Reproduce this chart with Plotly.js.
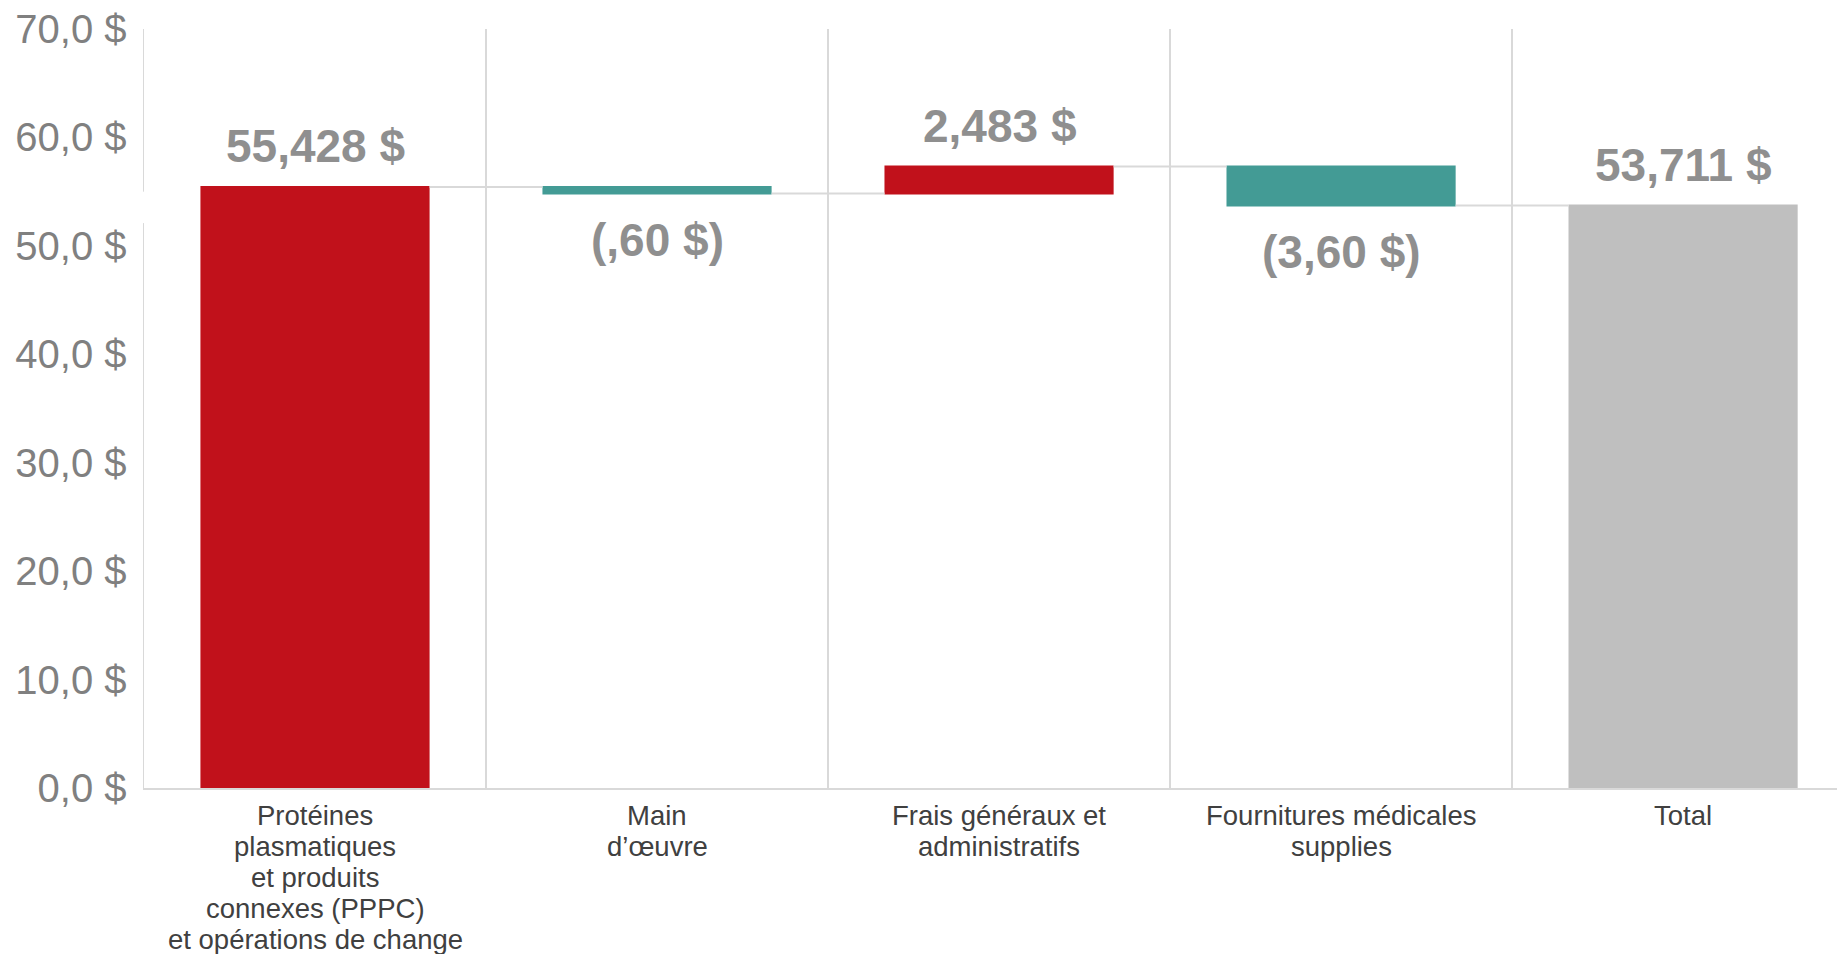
<!DOCTYPE html>
<html>
<head>
<meta charset="utf-8">
<script src="https://cdn.plot.ly/plotly-3.0.1.min.js"></script>
<style>html,body{margin:0;padding:0;background:#fff;}#chart{width:1837px;height:954px;}</style>
</head>
<body>
<div id="chart"></div>
<script>
// ---- data ----
const categories = ["pppc", "main", "frais", "fournitures", "total"];
const categoryLines = [
  ["Protéines", "plasmatiques", "et produits", "connexes (PPPC)", "et opérations de change"],
  ["Main", "d’œuvre"],
  ["Frais généraux et", "administratifs"],
  ["Fournitures médicales", "supplies"],
  ["Total"]
];
const measures = ["relative", "relative", "relative", "relative", "total"];
const values = [55.428, -0.60, 2.483, -3.60, 0];
const valueLabels = ["55,428 $", "(,60 $)", "2,483 $", "(3,60 $)", "53,711 $"];
const axisBreak = [52.1, 55.0];

const FONT = "Liberation Sans, Arial, sans-serif";

const trace = {
  type: "waterfall",
  x: categories,
  y: values,
  measure: measures,
  textinfo: "none",
  cliponaxis: false,
  width: 0.67,
  increasing: {marker: {color: "#c1111b", line: {width: 0}}},
  decreasing: {marker: {color: "#439b95", line: {width: 0}}},
  totals: {marker: {color: "#bfbfbf", line: {width: 0}}},
  connector: {line: {color: "#d9d9d9", width: 2}, mode: "between"},
  hoverinfo: "none"
};

const annotations = [];

// value labels, placed at the end of each bar from the running total
let running = 0;
values.forEach((v, i) => {
  let level, down;
  if (measures[i] === "total") { level = running; down = false; }
  else { running += v; level = running; down = v < 0; }
  annotations.push({
    x: categories[i], xref: "x",
    y: level, yref: "y",
    xanchor: "center",
    yanchor: down ? "top" : "bottom",
    yshift: down ? -18 : 13,
    text: valueLabels[i], showarrow: false,
    font: {family: FONT, size: 46, color: "#8f8f8f", weight: "bold"}
  });
});

// category labels, one line each
categoryLines.forEach((lines, i) => {
  lines.forEach((line, j) => {
    annotations.push({
      x: categories[i], xref: "x",
      y: 0, yref: "paper",
      yanchor: "top", xanchor: "center",
      yshift: -10 - j * 31,
      text: line, showarrow: false,
      font: {family: FONT, size: 27.5, color: "#404040"}
    });
  });
});

const layout = {
  width: 1837, height: 954,
  margin: {l: 144, r: 0, t: 29, b: 166, pad: 0},
  paper_bgcolor: "#ffffff",
  plot_bgcolor: "#ffffff",
  showlegend: false,
  separators: ", ",
  font: {family: FONT},
  xaxis: {
    type: "category",
    range: [-0.5, 4.45],
    showticklabels: false,
    tickson: "boundaries",
    ticks: "",
    showgrid: true,
    gridcolor: "#d9d9d9",
    gridwidth: 1.5,
    showline: true,
    linecolor: "#d9d9d9",
    linewidth: 2,
    zeroline: false,
    fixedrange: true
  },
  yaxis: {
    range: [0, 70],
    dtick: 10,
    tick0: 0,
    tickformat: ".1f",
    ticksuffix: " $",
    ticks: "",
    ticklabelstandoff: 8,
    tickfont: {family: FONT, size: 40, color: "#808080"},
    showgrid: false,
    zeroline: false,
    showline: true,
    linecolor: "#d9d9d9",
    linewidth: 1.5,
    fixedrange: true
  },
  shapes: [{
    type: "line", xref: "paper", yref: "y",
    x0: 0, x1: 0, y0: axisBreak[0], y1: axisBreak[1],
    line: {color: "#ffffff", width: 5}
  }],
  annotations: annotations
};

Plotly.newPlot("chart", [trace], layout, {staticPlot: true, displayModeBar: false});
</script>
</body>
</html>
